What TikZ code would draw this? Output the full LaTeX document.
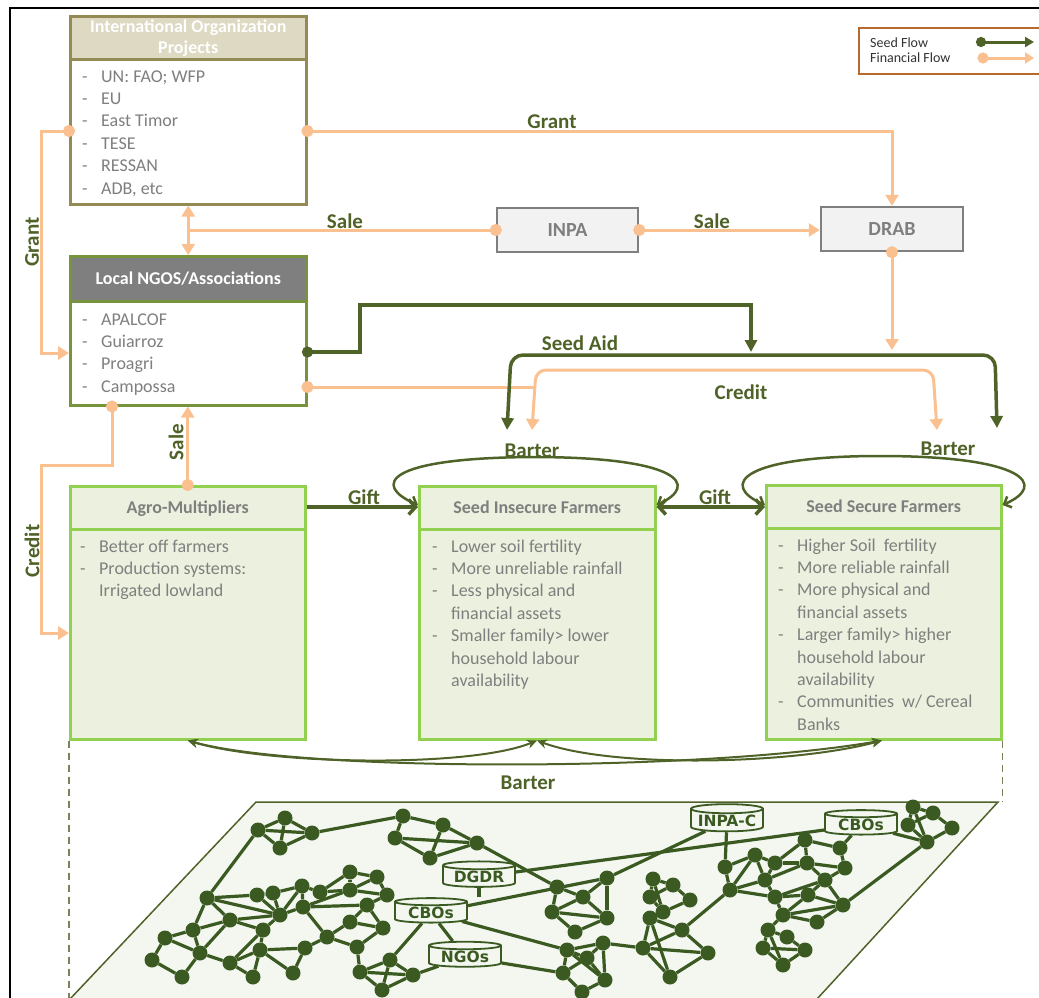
\documentclass[tikz,border=0pt]{standalone}
\usepackage{fontspec}
\setmainfont{Carlito}
\newfontfamily\netfont{DejaVu Sans}
\usetikzlibrary{arrows.meta,shapes.geometric}
\definecolor{ioB}{HTML}{948A54}
\definecolor{ioF}{HTML}{DDD9C3}
\definecolor{ngoB}{HTML}{77933C}
\definecolor{ngoF}{HTML}{7F7F7F}
\definecolor{farmB}{HTML}{92D050}
\definecolor{farmF}{HTML}{EBF1DE}
\definecolor{gboxF}{HTML}{F2F2F2}
\definecolor{gboxB}{HTML}{7F7F7F}
\definecolor{txtG}{HTML}{7F7F7F}
\definecolor{seedC}{HTML}{4F6228}
\definecolor{finC}{HTML}{FAC090}
\definecolor{netC}{HTML}{3A5A22}
\definecolor{planeF}{HTML}{F3F7F0}
\definecolor{legB}{HTML}{B8692E}
\definecolor{legT}{HTML}{333333}
\definecolor{dashC}{HTML}{7F7F5A}
\newcommand\dashitem[1]{\makebox[19pt][l]{-}#1}
\newcommand\contitem[1]{\hspace*{19pt}#1}
\tikzset{
  box/.style={draw, line width=2.5pt, inner sep=0pt, anchor=north west},
  hdr/.style={font=\bfseries\fontsize{18}{21}\selectfont, align=center},
  items/.style={font=\fontsize{18}{22.4}\selectfont, text=txtG, align=left, inner sep=0pt, anchor=base west},
  lbl/.style={font=\bfseries\fontsize{21}{24}\selectfont, text=seedC, inner sep=0pt},
  fin/.style={draw=finC, line width=3pt},
  seed/.style={draw=seedC, line width=3.5pt},
  fdot/.style={{Circle[length=12pt]}-, shorten <=-6pt},
  fdottip/.style={{Circle[length=12pt]}-{Triangle[width=13pt,length=11pt]}, shorten <=-6pt},
  ftwo/.style={{Triangle[width=13pt,length=11pt]}-{Triangle[width=13pt,length=11pt]}},
  sdottip/.style={{Circle[length=11pt]}-{Triangle[width=12pt,length=12pt]}, shorten <=-5.5pt},
  stwo/.style={{Triangle[width=12pt,length=12pt]}-{Triangle[width=12pt,length=12pt]}},
  barb/.style={-{Straight Barb[width=15pt,length=7pt]}},
  barbtwo/.style={{Straight Barb[width=15pt,length=7pt]}-{Straight Barb[width=15pt,length=7pt]}},
  barterloop/.style={draw=seedC, line width=2.5pt, {Straight Barb[width=12pt,length=6pt]}-{Straight Barb[width=12pt,length=6pt]}},
  bart/.style={draw=seedC, line width=2pt, {Stealth[width=9pt,length=10pt]}-{Stealth[width=9pt,length=10pt]}},
  ndot/.style={circle, fill=netC, inner sep=0pt, minimum size=15pt},
  net/.style={draw=netC, line width=3.2pt},
  cyl/.style={cylinder, shape border rotate=90, aspect=0.15, draw=netC, line width=1.8pt, fill=planeF, minimum width=72pt, minimum height=22pt, inner sep=1pt, font=\netfont\bfseries\fontsize{15.5}{15.5}\selectfont, text=netC},
  guide/.style={draw=dashC, line width=1.5pt, dash pattern=on 7pt off 5pt},
}
\begin{document}
\begin{tikzpicture}[x=1pt,y=-1pt]
\useasboundingbox (0,0) rectangle (1039,997);
% outer frame
\draw[line width=2pt] (10,1000) -- (10,8) -- (1042,8);

% ---------- network plane ----------
\filldraw[fill=planeF, draw=seedC, line width=1.5pt] (256,802) -- (998,802) -- (817,999) -- (70,999) -- cycle;
\foreach \nm/\px/\py in {a1/285/818, a2/258/830, a3/312/833, a4/280/848,
  b1/403/816, b2/443/825, b3/395/838, b4/477/843, b5/430/858,
  c1/207/898, c2/230/920, c3/257/895, c4/273/893, c5/302/886, c6/280/915, c7/263/930, c8/193/930, c9/165/938, c10/152/960, c11/182/977, c12/200/953, c13/230/963, c14/260/950, c15/253/977, c16/293/973, c17/305/948, c18/350/872, c19/377/877, c20/320/892, c21/350/890, c22/303/907, c23/367/905, c24/387/895, c25/350/922, c26/327/937, c27/383/928, c28/357/947,
  n1/360/972, n2/390/960, n3/413/975, n4/382/990,
  d1/557/887, d2/583/897, d3/607/878, d4/552/912, d5/607/918, d6/575/932,
  e1/567/950, e2/603/943, e3/587/958, e4/563/973, e5/605/980, e6/582/992,
  f1/653/879, f2/673/885, f3/650/897, f4/690/900, f5/663/912,
  g1/650/918, g2/682/930, g3/643/948, g4/708/953, g5/670/977,
  h1/725/867, h2/755/855, h3/730/890, h4/765/880, h5/775/863, h6/805/840, h7/840/848, h8/807/863, h9/845/868, h10/825/880, h11/775/897, h12/808/895, h13/843/905, h14/783/915, h15/817/922,
  i1/913/807, i2/933/813, i3/908/825, i4/952/828, i5/927/842,
  j1/768/930, j2/787/937, j3/763/948, j4/805/950, j5/783/965}
  {\node[ndot] (\nm) at (\px,\py) {};}
\node[cyl] (dgdr) at (479,877) {DGDR};
\node[cyl] (cbo1) at (431,913) {CBOs};
\node[cyl] (ngos) at (465,957) {NGOs};
\node[cyl] (inpac) at (727,821) {INPA-C};
\node[cyl] (cbo2) at (861,825) {CBOs};
\foreach \ea/\eb in {a1/a2, a1/a3, a2/a4, a3/a4, a1/a4, a2/a3, a3/b1, a2/c1,
  b1/b2, b1/b3, b2/b4, b3/b5, b4/b5, b3/b4, b2/b5, b4/d1,
  c1/c3, c1/c2, c1/c6, c1/c8, c3/c4, c3/c6, c4/c6, c4/c5, c5/c6, c2/c6, c6/c7, c2/c7, c2/c8, c2/c12, c8/c9, c8/c12, c9/c10, c9/c12, c10/c11, c11/c12, c12/c13, c13/c7, c7/c14, c13/c14, c13/c15, c14/c15, c14/c17, c17/c16, c16/c14, c6/c22, c22/c5, c5/c20, c20/c18, c18/c19, c18/c21, c19/c21, c20/c21, c21/c24, c19/c24, c24/c23, c22/c23, c21/c22, c23/c25, c25/c26, c26/c22, c25/c27, c27/c28, c28/c26, c23/c27, c28/n1, c17/c26,
  n1/n2, n2/n3, n1/n4, n4/n3, n1/n3, n2/n4,
  d1/d2, d2/d3, d1/d4, d4/d6, d6/d5, d5/d3, d2/d5, d2/d4, d4/d5,
  e1/e2, e2/e5, e1/e4, e4/e6, e6/e5, e1/e3, e3/e5, e2/e3, e4/e3, e1/e5, e2/g3,
  f1/f2, f1/f3, f2/f4, f3/f5, f4/f5, f1/f5, f2/f3,
  g1/g2, g1/g3, g2/g4, g3/g5, g4/g5, g1/g5, g3/g2, g2/h3, g3/g4,
  h1/h2, h1/h3, h2/h3, h2/h4, h3/h4, h2/h5, h4/h5, h3/h11, h4/h11, h5/h6, h6/h7, h6/h8, h7/h9, h8/h9, h8/h5, h9/h10, h10/h8, h10/h11, h10/h12, h11/h12, h12/h13, h13/h10, h11/h14, h14/h12, h14/h15, h15/h13, h14/h13, h4/h8,
  i1/i2, i1/i3, i2/i4, i3/i5, i4/i5, i1/i5, i2/i3, i5/h13,
  j1/j2, j1/j3, j2/j4, j3/j5, j4/j5, j1/j5, j3/j4, h14/j1,
  cbo1/d3, cbo1/e1, cbo1/n2, dgdr/cbo2, d3/inpac, ngos/e4, ngos/n3, inpac/h1, cbo2/h7, cbo2/i5}
  {\draw[net] (\ea) -- (\eb);}
\draw[net] (dgdr.south) -- (dgdr.south |- cbo1.north);
\draw[net] (cbo1) -- (ngos);

% ---------- boxes ----------
\node[box, draw=ioB, fill=white, minimum width=236pt, minimum height=188pt] (io) at (69,15) {};
\node[box, draw=ioB, fill=ioF, minimum width=236pt, minimum height=43pt, hdr, text=white] (ioH) at (69,15) {International Organization\\Projects};
\node[items] (ioL) at (82,194) {\dashitem{UN: FAO; WFP}\\\dashitem{EU}\\\dashitem{East Timor}\\\dashitem{TESE}\\\dashitem{RESSAN}\\\dashitem{ADB, etc}};

\node[box, draw=ngoB, fill=white, minimum width=236pt, minimum height=149pt] (ngo) at (69,255) {};
\node[box, draw=ngoB, fill=ngoF, minimum width=236pt, minimum height=45pt, hdr, text=white] (ngoH) at (69,255) {Local NGOS/Associations};
\node[items] (ngoL) at (82,392.2) {\dashitem{APALCOF}\\\dashitem{Guiarroz}\\\dashitem{Proagri}\\\dashitem{Campossa}};

\node[draw=gboxB, fill=gboxF, line width=2.5pt, minimum width=141pt, minimum height=44pt, font=\bfseries\fontsize{20}{24}\selectfont, text=txtG] (inpa) at (567.5,230) {INPA};
\node[draw=gboxB, fill=gboxF, line width=2.5pt, minimum width=142pt, minimum height=44pt, font=\bfseries\fontsize{20}{24}\selectfont, text=txtG] (drab) at (892,229) {DRAB};

\node[box, draw=farmB, fill=farmF, minimum width=235pt, minimum height=253pt] (agro) at (69,485) {};
\node[box, draw=farmB, fill=farmF, minimum width=235pt, minimum height=43pt, hdr, text=txtG, text height=12pt, text depth=0pt] (agroH) at (69,485) {Agro-Multipliers};
\node[items] (agroL) at (80,596.8) {\dashitem{Better off farmers}\\\dashitem{Production systems:}\\\contitem{Irrigated lowland}};

\node[box, draw=farmB, fill=farmF, minimum width=236pt, minimum height=253pt] (sif) at (418,485) {};
\node[box, draw=farmB, fill=farmF, minimum width=236pt, minimum height=43pt, hdr, text=txtG, text height=12pt, text depth=0pt] (sifH) at (418,485) {Seed Insecure Farmers};
\node[items] (sifL) at (432,686.4) {\dashitem{Lower soil fertility}\\\dashitem{More unreliable rainfall}\\\dashitem{Less physical and}\\\contitem{financial assets}\\\dashitem{Smaller family> lower}\\\contitem{household labour}\\\contitem{availability}};

\node[box, draw=farmB, fill=farmF, minimum width=235pt, minimum height=254pt] (ssf) at (765,484) {};
\node[box, draw=farmB, fill=farmF, minimum width=235pt, minimum height=43pt, hdr, text=txtG, text height=12pt, text depth=0pt] (ssfH) at (765,484) {Seed Secure Farmers};
\node[items] (ssfL) at (778,730.2) {\dashitem{Higher Soil~ fertility}\\\dashitem{More reliable rainfall}\\\dashitem{More physical and}\\\contitem{financial assets}\\\dashitem{Larger family> higher}\\\contitem{household labour}\\\contitem{availability}\\\dashitem{Communities~ w/ Cereal}\\\contitem{Banks}};

% ---------- legend ----------
\node[box, draw=legB, line width=1.5pt, fill=white, minimum width=200pt, minimum height=46pt] (leg) at (858,27) {};
\node[font=\fontsize{14}{17}\selectfont, text=legT, anchor=base west, inner sep=0pt] (legS) at (870,47) {Seed Flow};
\node[font=\fontsize{14}{17}\selectfont, text=legT, anchor=base west, inner sep=0pt] (legF) at (870,62) {Financial Flow};
\coordinate (ls1) at (981,42); \coordinate (ls2) at (1034,42);
\coordinate (lf1) at (983,58); \coordinate (lf2) at (1034,58);
\draw[draw=seedC, line width=3pt, {Circle[length=10pt]}-{Triangle[width=10pt,length=9pt]}, shorten <=-5pt] (ls1) -- (ls2);
\draw[draw=finC, line width=3pt, {Circle[length=11pt]}-{Triangle[width=11pt,length=9pt]}, shorten <=-5.5pt] (lf1) -- (lf2);

% ---------- dashed guides ----------
\draw[guide] (agro.south west) -- (69,999);
\draw[guide] (ssf.south east) -- (ssf.south east |- 0,802);

% ---------- financial flows ----------
\draw[fin, fdottip] (io.west |- 0,131) -- (41,131) -- (41,353) -- (ngo.west |- 0,353);
\draw[fin, fdottip] (io.east |- 0,131) -- (892,131) -- (drab.north);
\draw[fin, ftwo] (io.south) -- (ngo.north);
\draw[fin, fdot] (inpa.west) -- (io.south |- inpa.west);
\draw[fin, fdottip] (inpa.east) -- (inpa.east -| drab.west);
\draw[fin, fdottip] (drab.south) -- (drab.south |- 0,350);
\draw[fin, fdottip] (agro.north) -- (agro.north |- ngo.south);
\draw[fin, fdottip] (ngo.south -| 112,0) -- (112,465) -- (41,465) -- (41,633) -- (agro.west |- 0,633);
\draw[fin, fdot] (ngo.east |- 0,387) -- (535,387);
\draw[fin, ftwo, rounded corners=10pt] (532,430) -- (536,370) -- (933,370) -- (937,430);

% ---------- seed flows ----------
\draw[seed, sdottip] (ngo.east |- 0,352) -- (360,352) -- (360,305) -- (751,305) -- (751,352);
\draw[seed, stwo, rounded corners=12pt] (507,430) -- (511,355) -- (995,355) -- (997,428);
\draw[seed, barb] (agro.east |- 0,507) -- (sif.west |- 0,507);
\draw[seed, barbtwo] (sif.east |- 0,507) -- (ssf.west |- 0,507);
\draw[barterloop] (sif.west |- 0,505) .. controls (372,485) and (385,458) .. (532,457) .. controls (680,457) and (700,485) .. (sif.east |- 0,505);
\draw[barterloop] (ssf.west |- 0,505) .. controls (720,485) and (740,456) .. (880,456) .. controls (1025,456) and (1048,485) .. (ssf.east |- 0,505);
\draw[bart] (agro.south) .. controls (300,772) and (700,772) .. (ssf.south -| 882,0);
\draw[bart] (agro.south) .. controls (270,765) and (470,768) .. (sif.south -| 537,0);
\draw[bart] (sif.south -| 537,0) .. controls (610,768) and (790,765) .. (ssf.south -| 882,0);

% ---------- labels ----------
\node[lbl, rotate=90] (lGrant1) at (32,242) {Grant};
\node[lbl] (lGrant2) at (552,122) {Grant};
\node[lbl] (lSale1) at (345,221) {Sale};
\node[lbl] (lSale2) at (712,221) {Sale};
\node[lbl, rotate=90] (lSale3) at (176,442) {Sale};
\node[lbl, rotate=90] (lCredit1) at (32,551) {Credit};
\node[lbl] (lSeedAid) at (580,343) {Seed Aid};
\node[lbl] (lCredit2) at (741,392) {Credit};
\node[lbl] (lGift1) at (364,497) {Gift};
\node[lbl] (lGift2) at (715,497) {Gift};
\node[lbl] (lBarter1) at (532,451) {Barter};
\node[lbl] (lBarter2) at (948,449) {Barter};
\node[lbl] (lBarter3) at (528,783) {Barter};
\end{tikzpicture}
\end{document}
